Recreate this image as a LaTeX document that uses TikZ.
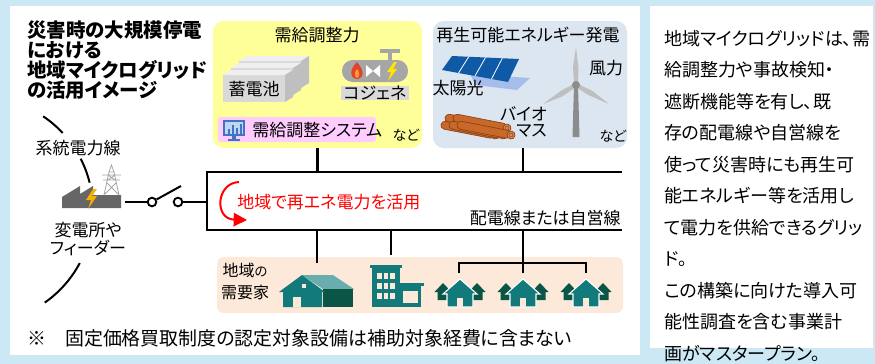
\documentclass[tikz,border=0pt]{standalone}
\usepackage{fontspec}
\setmainfont{Noto Sans CJK JP}[RawFeature=+palt]
\usetikzlibrary{positioning, calc, arrows.meta}
\definecolor{Sky}{HTML}{CDE8F5}
\definecolor{Butter}{HTML}{FFFF99}
\definecolor{Mist}{HTML}{DCE6F1}
\definecolor{Orchid}{HTML}{FFCCFF}
\definecolor{Peach}{HTML}{FDE9D9}
\definecolor{Teal}{HTML}{137A7C}
\definecolor{Pine}{HTML}{0B5546}
\definecolor{Aqua}{HTML}{6AADAF}
\definecolor{Slate}{HTML}{666666}
\definecolor{Bolt}{HTML}{F5B200}
\definecolor{Spark}{HTML}{FFE600}
\definecolor{Panel}{HTML}{0E5AA7}
\definecolor{Shade}{HTML}{A6BDEB}
\definecolor{Wood}{HTML}{C8692A}
\definecolor{Bark}{HTML}{8B3F12}
\definecolor{Grain}{HTML}{DD8A4E}
\definecolor{Steel}{HTML}{BFBFBF}
\definecolor{Iron}{HTML}{8C8C8C}
\definecolor{Concrete}{HTML}{D9D9D9}
\definecolor{Frost}{HTML}{EFEFEF}
\definecolor{Pebble}{HTML}{A6A6A6}
\definecolor{Alert}{HTML}{FF0000}
\definecolor{Ember}{HTML}{E0422B}
\definecolor{Flame}{HTML}{FF9933}
\definecolor{Screen}{HTML}{4472C4}
\definecolor{Glass}{HTML}{BDD7EE}
\tikzset{
    zone/.style 2 args={rectangle, inner sep=0pt, minimum width=#1*0.75pt, minimum height=#2*0.75pt},
    headline/.style={inner sep=0pt, align=left, font=\fontsize{14.6}{15}\selectfont\bfseries},
    txt/.style={inner sep=0pt, font=\fontsize{12.75}{14}\selectfont},
    small/.style={inner sep=0pt, font=\fontsize{10.5}{12}\selectfont},
    remark/.style={inner sep=0pt, font=\fontsize{14.2}{16}\selectfont},
    memo/.style={inner sep=0pt, align=left, font=\fontsize{13.5}{23.6}\selectfont},
    wire/.style={line width=2.2pt},
    thinwire/.style={line width=1.5pt},
    contact/.style={circle, draw, line width=1.4pt, fill=white, minimum size=6.5pt, inner sep=0pt},
    homes/.pic={
        % two dark houses behind, one teal house in front
        \foreach \s in {-17,17}
            \fill[Pine] (\s-8.5,-15) -- (\s,-24) -- (\s+8.5,-15) -- (\s+5.5,-15)
                -- (\s+5.5,-7) -- (\s-5.5,-7) -- (\s-5.5,-15) -- cycle;
        \filldraw[fill=Teal, draw=white, line width=0.8pt] (-17,-13) -- (0,-28) -- (17,-13)
            -- (13,-13) -- (13,0) -- (-13,0) -- (-13,-13) -- cycle;
        \fill[Peach] (-3,-9) rectangle (3,0);
    },
}

\begin{document}
\begin{tikzpicture}[x=0.75pt, y=-0.75pt]
% backdrop and the two white panels
\fill[Sky] (0,0) rectangle (875,364);
\useasboundingbox (0,0) rectangle (875,364);
\fill[white] (10,6) rectangle (640,355);
\fill[white] (650,6) rectangle (873,348);

\node[headline, anchor=north west] (head) at (27,21)
    {災害時の大規模停電\\における\\地域マイクログリッド\\の活用イメージ};

% --- supply/demand adjustment ---
\node[zone={209}{127}, rounded corners=8pt, fill=Butter] (supply) at (317.5,84.5) {};
\node[txt] (supplyT) at (317,35) {需給調整力};
\foreach \i in {2,1,0} {
    \begin{scope}[shift={(\i*8,-\i*7)}]
        \fill[Concrete] (223,75) rectangle (285,102);
        \fill[Frost] (223,75) -- (231,70) -- (293,70) -- (285,75) -- cycle;
        \fill[Steel] (285,75) -- (293,70) -- (293,97) -- (285,102) -- cycle;
    \end{scope}
}
\node[txt] (battery) at (254,89) {蓄電池};

% cogeneration unit
\fill[Pebble] (380,49) rectangle (400,53);
\fill[Pebble] (388,53) rectangle (392,61);
\node[zone={66}{22}, rounded corners=8pt, fill=Pebble] (cogen) at (375,71) {};
\fill[Ember] (357,62) .. controls (352,67) and (350,72) .. (352,76)
    .. controls (354,80) and (360,80) .. (362,76) .. controls (364,72) and (361,67) .. (357,62) -- cycle;
\fill[Flame] (357,69) .. controls (354,72) and (354,77) .. (357,78)
    .. controls (360,77) and (360,72) .. (357,69) -- cycle;
\fill[white] (366,65) -- (373,71) -- (366,77) -- cycle;
\fill[white] (380,65) -- (373,71) -- (380,77) -- cycle;
\fill[Spark] (394,62) -- (387,72) -- (391,72) -- (388,81) -- (397,69) -- (393,69) -- (397,62) -- cycle;
\node[zone={68}{14}, fill=Concrete, txt] (cogenT) at (375,93) {コジェネ};

% control system
\node[zone={158}{25}, rounded corners=2pt, fill=Orchid] (ems) at (297,129.5) {};
\fill[Screen] (223,120) rectangle (245,136);
\fill[Glass] (225,122) rectangle (243,134);
\foreach \b/\h in {228/5,232/9,236/6,240/10}
    \fill[Screen] (\b,134) rectangle ++(2.2,-\h);
\fill[Screen] (232,136) rectangle (236,139);
\fill[Screen] (228,139) rectangle (240,141);
\node[txt, anchor=west] (emsT) at (252,130) {需給調整システム};
\node[small] (supplyEtc) at (406,135) {など};

% --- renewables ---
\node[zone={194}{127}, rounded corners=8pt, fill=Mist] (renew) at (530,84.5) {};
\node[txt] (renewT) at (528,35) {再生可能エネルギー発電};

% solar array
\fill[Shade] (470,74) -- (530,78) -- (517,90) -- (475,85) -- cycle;
\fill[Panel] (452,56) -- (519,59) -- (508,82) -- (442,70) -- cycle;
\foreach \t in {0.25,0.5,0.75}
    \draw[white, line width=0.6pt] ($(452,56)!\t!(519,59)$) -- ($(442,70)!\t!(508,82)$);
\node[txt] (solar) at (458,88) {太陽光};

% wind turbine
\coordinate (hub) at (576,85);
\fill[Iron] (574,85) -- (578,85) -- (579.5,137) -- (572.5,137) -- cycle;
\foreach \a in {0,120,240} {
    \begin{scope}[shift={(hub)}, rotate=\a]
        \fill[Steel] (-2,-2) -- (-3,-18) -- (0,-38) -- (2.5,-16) -- (2,-2) -- cycle;
    \end{scope}
}
\fill[Iron] (hub) circle (4);
\node[txt] (wind) at (606,68) {風力};

% biomass logs
\foreach \x/\y in {499/128, 507/128, 495/135, 503/135, 511/135} {
    \begin{scope}[shift={(\x,\y)}, rotate=-11]
        \filldraw[fill=Wood, draw=Bark, line width=0.5pt, rounded corners=3pt] (-55,-4) rectangle (0,4);
        \filldraw[fill=Grain, draw=Bark, line width=0.5pt] (0,0) circle (4);
        \draw[Bark, line width=0.4pt] (0,0) circle (2);
    \end{scope}
}
\node[txt, anchor=east] (bioA) at (547,114) {バイオ};
\node[txt, anchor=east] (bioB) at (547,131) {マス};
\node[small] (renewEtc) at (613,136) {など};

% --- grid side ---
\coordinate (gridC) at (-20,210);
\draw[thinwire] ($(gridC)+(-56:113)$) arc[start angle=-56, end angle=-43, radius=113];
\node[txt] (grid) at (78,148) {系統電力線};
\draw[thinwire] ($(gridC)+(-27:113)$) arc[start angle=-27, end angle=-14, radius=113];
\draw[thinwire] ($(gridC)+(28:113)$) arc[start angle=28, end angle=55, radius=113];

% substation
\draw[Pebble, line width=0.6pt] (104,195) -- (109,172) -- (114,172) -- (119,195)
    (109,172) -- (111.5,165) -- (114,172)
    (102,175) -- (121,175) (103,180) -- (120,180)
    (108,175) -- (115,180) (115,175) -- (108,180)
    (107,183) -- (118,194) (116,183) -- (105,194);
\fill[Slate] (62,208) -- (62,197) -- (80,186) -- (80,194) -- (93,186) -- (93,195)
    -- (121,195) -- (121,208) -- cycle;
\fill[Bolt] (93,189) -- (86,200) -- (91,200) -- (88,209) -- (97,196) -- (92,196) -- (97,189) -- cycle;
\node[txt] (subA) at (88,230) {変電所や};
\node[txt] (subB) at (88,248) {フィーダー};

% switch
\coordinate (subOut) at (125,202);
\node[contact] (swA) at (152,202) {};
\node[contact] (swB) at (178,202) {};
\coordinate (swTip) at (181,186);
\coordinate (busIn) at (207,202);
\draw[thinwire] (subOut) -- (swA);
\draw[thinwire] (swA) -- (swTip);
\draw[thinwire] (swB) -- (busIn);

% distribution line
\coordinate (busTL) at (207,172);
\coordinate (busBL) at (207,230);
\coordinate (busTR) at (622,172);
\coordinate (busBR) at (622,230);
\draw[wire] (busTR) -- (busTL) -- (busBL) -- (busBR);
\coordinate (renewTap) at (523,148);
\draw[wire] (supply.south) -- (supply.south |- busTL);
\draw[wire] (renewTap) -- (renewTap |- busTL);

\coordinate (loopS) at (239,182);
\coordinate (loopE) at (247,220);
\draw[Alert, line width=1.5pt, -{Triangle[length=10pt, width=10pt]}]
    (loopS) .. controls (216,183) and (214,219) .. (loopE);
\node[txt, text=Alert, anchor=west] (local) at (237,202) {地域で再エネ電力を活用};
\node[txt, anchor=east] (feeder) at (621,218) {配電線または自営線};

% --- consumers ---
\node[zone={406}{56}, rounded corners=5pt, fill=Peach] (demand) at (420,285) {};
\node[txt, font=\fontsize{12}{14}\selectfont] (areaA) at (245,270) {地域{\fontsize{10}{12}\selectfont の}};
\node[txt, font=\fontsize{12}{14}\selectfont] (areaB) at (245,292) {需要家};

% warehouse
\fill[Aqua] (302,275) -- (333,275) -- (354,289) -- (323,289) -- cycle;
\fill[Pine] (323,289) rectangle (353,307);
\fill[Teal] (279,292) -- (302,275) -- (325,292) -- (322,292) -- (322,307) -- (283,307) -- (283,292) -- cycle;
\fill[Peach] (293,297) rectangle (301,307);
\fill[Peach] (302,284) rectangle (306,288);

% office building
\fill[Teal] (370,265) rectangle (402,268);
\fill[Teal] (372,268) rectangle (400,307);
\foreach \c in {377,383.5,390}
    \foreach \r in {273,283,293}
        \fill[Peach] (\c,\r) rectangle ++(4.5,6);
\fill[Teal] (399,283) rectangle (424,286);
\fill[Teal] (400,286) rectangle (421,307);
\fill[Peach] (403,291) rectangle (418,303);

% houses
\pic (homeA) at (460,307) {homes};
\pic (homeB) at (523,307) {homes};
\pic (homeC) at (586,307) {homes};

\coordinate (wareTap) at (317,263);
\coordinate (officeTap) at (391,255);
\coordinate (homesTap) at (523,263);
\coordinate (homeL) at (459,273);
\coordinate (homeR) at (586,273);
\draw[wire] (busBL -| wareTap) -- (wareTap);
\draw[wire] (busBL -| officeTap) -- (officeTap);
\draw[wire] (busBL -| homesTap) -- (homesTap |- homeL);
\draw[wire] (homeL) -- (homeL |- homesTap) -- (homeR |- homesTap) -- (homeR);

\node[remark, anchor=west] (note) at (27,338)
    {※　固定価格買取制度の認定対象設備は補助対象経費に含まない};

% explanation panel
\node[memo, anchor=north west] (memo) at (664,30)
    {地域マイクログリッドは、需\\給調整力や事故検知・\\遮断機能等を有し、既\\存の配電線や自営線を\\使って災害時にも再生可\\能エネルギー等を活用し\\て電力を供給できるグリッ\\ド。\\この構築に向けた導入可\\能性調査を含む事業計\\画がマスタープラン。};
\end{tikzpicture}
\end{document}
